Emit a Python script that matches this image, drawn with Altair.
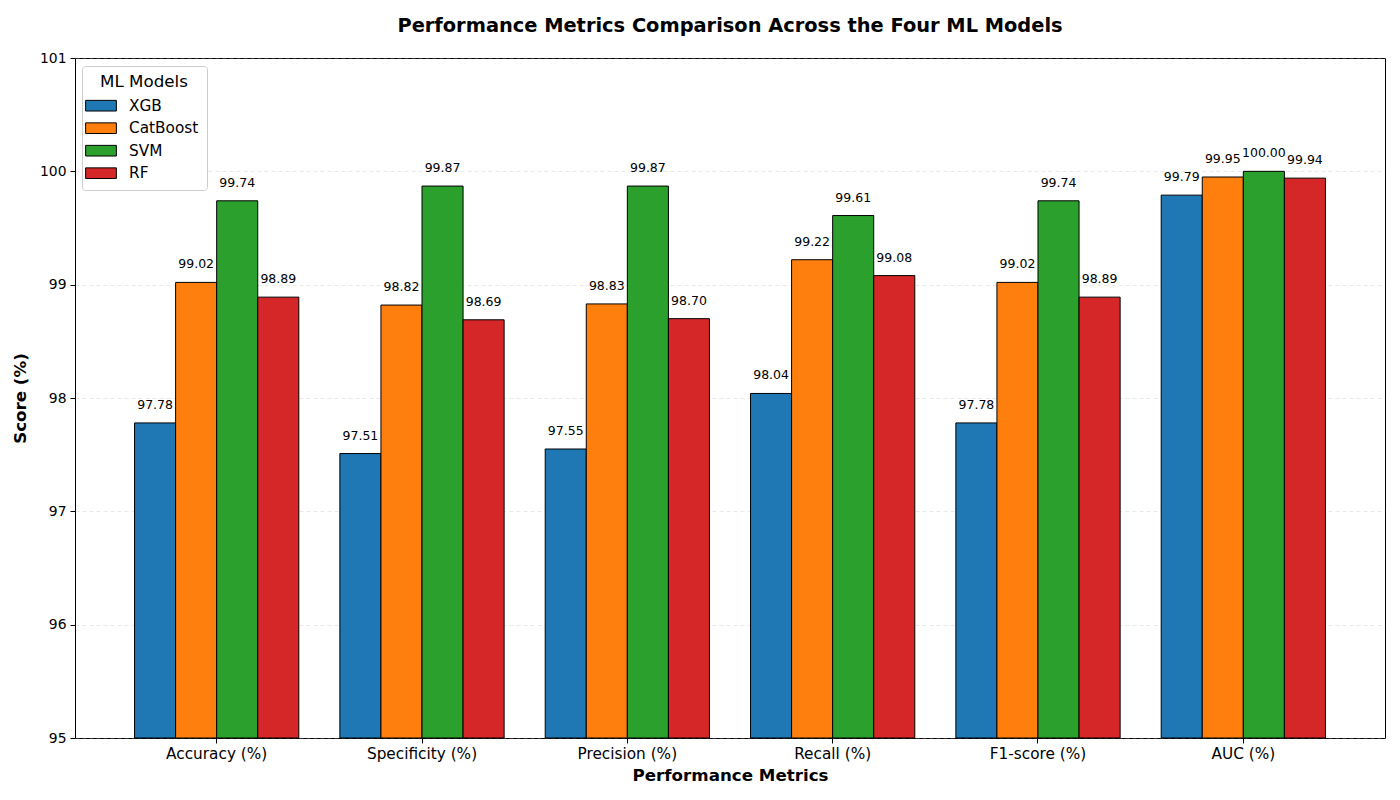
import altair as alt
import pandas as pd

metrics = ["Accuracy (%)", "Specificity (%)", "Precision (%)", "Recall (%)", "F1-score (%)", "AUC (%)"]
models = ["XGB", "CatBoost", "SVM", "RF"]
xgb = [97.78, 97.51, 97.55, 98.04, 97.78, 99.79]
catboost = [99.02, 98.82, 98.83, 99.22, 99.02, 99.95]
svm = [99.74, 99.87, 99.87, 99.61, 99.74, 100.00]
rf = [98.89, 98.69, 98.70, 99.08, 98.89, 99.94]
colors = ["#1f77b4", "#ff7f0e", "#2ca02c", "#d62728"]

rows = []
for model, vals in zip(models, [xgb, catboost, svm, rf]):
    for m, v in zip(metrics, vals):
        rows.append({"Metric": m, "Model": model, "Score": v})
df = pd.DataFrame(rows)

FONT = "DejaVu Sans"

x = alt.X("Metric:N", sort=metrics,
          scale=alt.Scale(paddingInner=0.2, paddingOuter=0.29),
          axis=alt.Axis(title="Performance Metrics", labelAngle=0, labelFontSize=15.3,
                        titleFontSize=16.7, titleFontWeight="bold", labelColor="black",
                        titleColor="black", tickColor="black", domain=False,
                        tickSize=5, labelPadding=3, titlePadding=6, grid=False))
xo = alt.XOffset("Model:N", sort=models, scale=alt.Scale(paddingInner=0, paddingOuter=0))
y = alt.Y("Score:Q",
          scale=alt.Scale(domain=[95, 101], zero=False, nice=False),
          axis=alt.Axis(title="Score (%)", values=[95, 96, 97, 98, 99, 100, 101],
                        format="d", labelFontSize=13.9, titleFontSize=16.7,
                        titleFontWeight="bold", labelColor="black", titleColor="black",
                        tickColor="black", domain=False, tickSize=5, labelPadding=4,
                        titlePadding=10, grid=True, gridDash=[4, 3], gridColor="#b0b0b0",
                        gridOpacity=0.35, gridWidth=0.8))

color = alt.Color("Model:N", sort=models,
                  scale=alt.Scale(domain=models, range=colors),
                  legend=alt.Legend(title="ML Models", orient="none", legendX=7, legendY=8,
                                    titleFontSize=16.7, titleFontWeight="normal",
                                    titleColor="black", labelColor="black",
                                    labelFontSize=15.3, titleAnchor="middle",
                                    symbolType="M-1.5,-0.52L1.5,-0.52L1.5,0.52L-1.5,0.52Z",
                                    symbolSize=420, symbolStrokeColor="black",
                                    symbolStrokeWidth=1, symbolOpacity=1,
                                    rowPadding=2.5, padding=8, cornerRadius=3,
                                    strokeColor="#cccccc", fillColor="white",
                                    labelOffset=17, titlePadding=4))

base = alt.Chart(df)

bars = base.mark_bar(stroke="black", strokeWidth=1, opacity=1).encode(
    x=x, xOffset=xo, y=y, y2=alt.datum(95), color=color
)

labels = base.mark_text(baseline="bottom", dy=-11, fontSize=12.5, color="black", font=FONT).encode(
    x=alt.X("Metric:N", sort=metrics), xOffset=xo, y=alt.Y("Score:Q"),
    text=alt.Text("Score:Q", format=".2f")
)

chart = alt.layer(bars, labels).properties(
    width=1310, height=680,
    autosize=alt.AutoSizeParams(type="none"),
    title=alt.TitleParams("Performance Metrics Comparison Across the Four ML Models",
                          fontSize=19.4, fontWeight="bold", font=FONT, color="black",
                          offset=15, anchor="middle"),
    padding={"left": 67, "top": 50, "right": 6, "bottom": 54}
).configure(font=FONT).configure_view(
    stroke="black", strokeWidth=1
).configure_axis(labelFont=FONT, titleFont=FONT).configure_legend(labelFont=FONT, titleFont=FONT)

chart.save("out.html", embed_options={"renderer": "svg", "actions": False})
